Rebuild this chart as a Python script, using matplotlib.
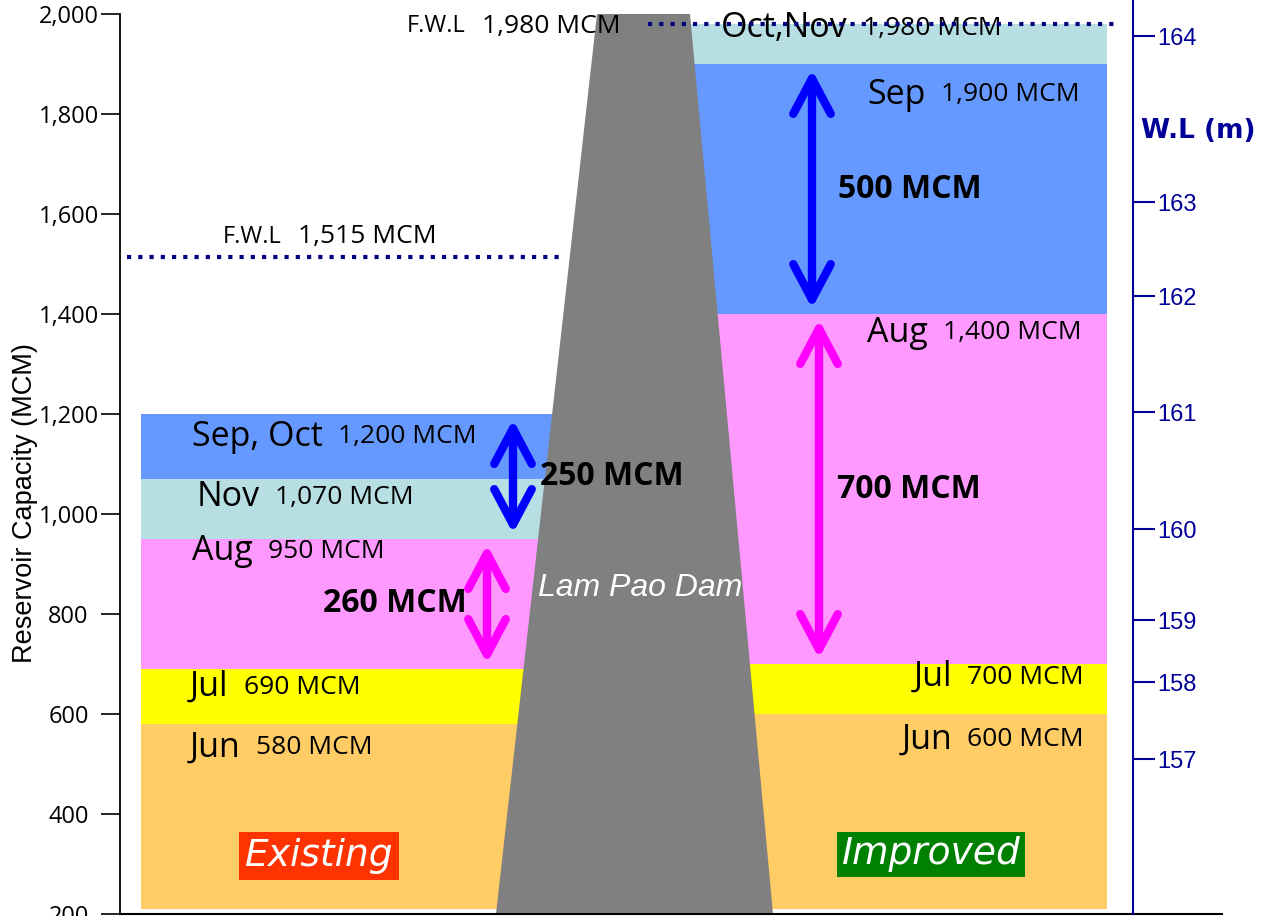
import numpy as np
import matplotlib.pyplot as plt
from matplotlib.patches import Polygon

# storage bands, bottom-up (month reached, capacity MCM)
existing_months = ['Jun', 'Jul', 'Aug', 'Nov', 'Sep, Oct']
existing_capacity = [580, 690, 950, 1070, 1200]
improved_months = ['Jun', 'Jul', 'Aug', 'Sep', 'Oct,Nov']
improved_capacity = [600, 700, 1400, 1900, 1980]

fwl_existing = 1515
fwl_improved = 1980

# gains shown with arrows (from, to) in MCM
existing_gains = [(950, 1200), (690, 950)]
improved_gains = [(1400, 1900), (700, 1400)]

# water level scale (m) and the capacity it sits at (MCM)
wl_levels = [157, 158, 159, 160, 161, 162, 163, 164]
wl_capacity = [510, 664, 788, 970, 1204, 1436, 1624, 1956]

cap_ticks = [200, 400, 600, 800, 1000, 1200, 1400, 1600, 1800, 2000]

band_colors = {'Jun': '#FFCC66', 'Jul': '#FFFF00', 'Aug': '#FF99FF',
               'Nov': '#B7DEE3', 'Oct,Nov': '#B7DEE3',
               'Sep, Oct': '#6699FF', 'Sep': '#6699FF'}

plt.rcParams['font.family'] = ['Open Sans', 'DejaVu Sans']

W, H = 1268, 916
fig = plt.figure(figsize=(W / 100, H / 100), dpi=100)
ax = fig.add_axes([120 / W, 2 / H, 1102 / W, 914 / H])
ax.set_xlim(120, 1222)
ax.set_ylim(200, 2028)

floor = 210
month_size = 24.5
value_size = 19


def draw_column(x0, width, months, caps):
    bottoms = [floor] + caps[:-1]
    heights = np.diff([floor] + caps)
    ax.bar(x0, heights, width, bottom=bottoms, align='edge',
           color=[band_colors[m] for m in months], zorder=1)


draw_column(141, 470, existing_months, existing_capacity)
draw_column(640, 467, improved_months, improved_capacity)

# dam body
dam = Polygon([(597, 2000), (690, 2000), (773, 200), (496, 200)],
              closed=True, fc='#808080', ec='none', zorder=2)
ax.add_patch(dam)
ax.text(640, 853, 'Lam Pao Dam', color='white', fontsize=23, style='italic',
        family='Liberation Sans', ha='center', va='center', zorder=4)

# month labels, existing side (left aligned)
left_x = [190, 190, 192, 197, 192]
left_drop = [48, 36, 24, 37, 46]
for m, c, lx, d in zip(existing_months, existing_capacity, left_x, left_drop):
    t = ax.text(lx, c - d, m, fontsize=month_size, ha='left', va='center', zorder=4)
    ax.annotate(f'{c:,} MCM', xy=(1, 0.5), xycoords=t, xytext=(11, 0),
                textcoords='offset points', fontsize=value_size,
                ha='left', va='center', zorder=4)

# month labels, improved side (right aligned)
right_x = [1084, 1084, 1082, 1080, 1002]
right_drop = [52, 26, 37, 62, 8]
for m, c, rx, d in zip(improved_months, improved_capacity, right_x, right_drop):
    v = ax.text(rx, c - d, f'{c:,} MCM', fontsize=value_size,
                ha='right', va='center', zorder=4)
    ax.annotate(m, xy=(0, 0.5), xycoords=v, xytext=(-11, 0),
                textcoords='offset points', fontsize=month_size,
                ha='right', va='center', zorder=4)

# F.W.L lines
dots = (0, (1, 1.7))
ax.hlines(fwl_existing, 127, 563, colors='#000080', lw=3,
          linestyles=[dots], zorder=3)
ax.hlines(fwl_improved, 648, 1115, colors='#000080', lw=3,
          linestyles=[dots], zorder=5)
for (lx, ly, val) in [(223, fwl_existing + 39, fwl_existing),
                      (407, fwl_improved - 4, fwl_improved)]:
    t = ax.text(lx, ly, 'F.W.L', fontsize=17, ha='left', va='center', zorder=4)
    ax.annotate(f'{val:,} MCM', xy=(1, 0.5), xycoords=t, xytext=(12, 0),
                textcoords='offset points', fontsize=value_size,
                ha='left', va='center', zorder=4)


def gain_arrow(x, lo, hi, color, label_dx):
    ax.annotate('', xy=(x, hi), xytext=(x, lo),
                arrowprops=dict(arrowstyle='<->,head_length=0.85,head_width=0.45',
                                color=color, lw=6, mutation_scale=30,
                                shrinkA=4, shrinkB=4, capstyle='round',
                                joinstyle='round'),
                zorder=4)
    ha = 'left' if label_dx > 0 else 'right'
    ax.text(x + label_dx, (lo + hi) / 2, f'{hi - lo} MCM', fontsize=23,
            fontweight='bold', ha=ha, va='center', zorder=4)


gain_arrow(513, *existing_gains[0], '#0000FF', 27)
gain_arrow(487, *existing_gains[1], '#FF00FF', -20)
gain_arrow(812, *improved_gains[0], '#0000FF', 26)
gain_arrow(819, *improved_gains[1], '#FF00FF', 18)

# case tags
ax.text(319, 316, 'Existing', color='white', fontsize=27, style='italic',
        family='DejaVu Sans', ha='center', va='center', zorder=4,
        bbox=dict(boxstyle='square,pad=0.15', fc='#FF3300', ec='none'))
ax.text(931, 320, 'Improved', color='white', fontsize=27, style='italic',
        family='DejaVu Sans', ha='center', va='center', zorder=4,
        bbox=dict(boxstyle='square,pad=0.12', fc='#008000', ec='none'))

# left axis
for s in ['top', 'right']:
    ax.spines[s].set_visible(False)
ax.spines['left'].set_bounds(200, 2000)
ax.spines['left'].set_linewidth(1.3)
ax.spines['bottom'].set_linewidth(1.5)
ax.set_xticks([])
ax.set_yticks(cap_ticks)
ax.set_yticklabels([f'{v:,}' for v in cap_ticks])
ax.tick_params(axis='y', length=14, width=1.2, pad=23, labelsize=17)
for lab in ax.get_yticklabels():
    lab.set_horizontalalignment('center')
fig.text(25 / W, 1 - 503 / H, 'Reservoir Capacity (MCM)', rotation=90,
         ha='center', va='center', fontsize=19.5, family='Liberation Sans')

# right axis: water level
navy = '#000099'
ax2 = ax.twinx()
ax2.set_ylim(ax.get_ylim())
for s in ['top', 'left', 'bottom']:
    ax2.spines[s].set_visible(False)
ax2.spines['right'].set_position(('axes', (1133 - 120) / 1102))
ax2.spines['right'].set_color(navy)
ax2.spines['right'].set_linewidth(1.5)
ax2.set_yticks(wl_capacity)
ax2.set_yticklabels([str(w) for w in wl_levels], family='Liberation Sans')
ax2.tick_params(axis='y', colors=navy, length=16, width=1.5, pad=1.5, labelsize=17)
ax.text(1141, 1766, 'W.L (m)', color=navy, fontsize=19, fontweight='bold',
        family='DejaVu Sans', ha='left', va='center', zorder=4)

fig.savefig('out.png', dpi=100)
